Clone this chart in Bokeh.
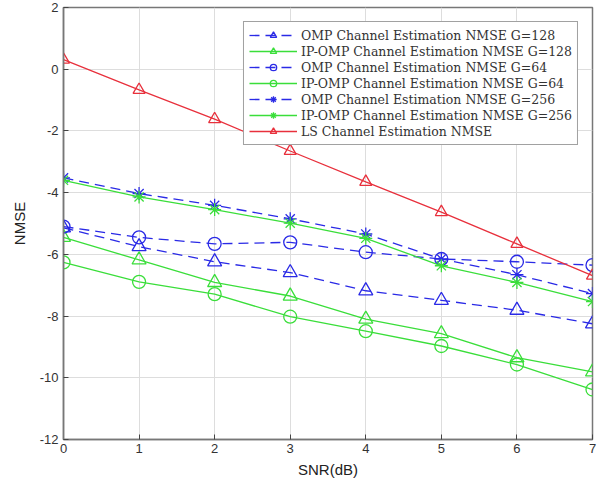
from bokeh.plotting import figure
from bokeh.models import Range1d, Legend, LegendItem, FixedTicker, PrintfTickFormatter
from bokeh.embed import file_html
from bokeh.resources import INLINE

snr = [0, 1, 2, 3, 4, 5, 6, 7]
omp_g128 = [-5.14, -5.75, -6.24, -6.59, -7.18, -7.49, -7.81, -8.25]
ipomp_g128 = [-5.45, -6.18, -6.91, -7.35, -8.10, -8.57, -9.35, -9.81]
omp_g64 = [-5.10, -5.45, -5.66, -5.61, -5.93, -6.15, -6.24, -6.35]
ipomp_g64 = [-6.26, -6.89, -7.29, -8.02, -8.49, -8.97, -9.57, -10.38]
omp_g256 = [-3.52, -4.03, -4.41, -4.85, -5.34, -6.15, -6.66, -7.27]
ipomp_g256 = [-3.60, -4.14, -4.55, -4.99, -5.48, -6.37, -6.91, -7.53]
ls_nmse = [0.31, -0.67, -1.62, -2.65, -3.65, -4.63, -5.66, -6.69]

labels = [
    "OMP Channel Estimation NMSE G=128",
    "IP-OMP Channel Estimation NMSE G=128",
    "OMP Channel Estimation NMSE G=64",
    "IP-OMP Channel Estimation NMSE G=64",
    "OMP Channel Estimation NMSE G=256",
    "IP-OMP Channel Estimation NMSE G=256",
    "LS Channel Estimation NMSE",
]
x_ticks = [0, 1, 2, 3, 4, 5, 6, 7]
y_ticks = [2, 0, -2, -4, -6, -8, -10, -12]

BLUE = "#2a2ae6"
GREEN = "#3ade3a"
RED = "#e8303c"

p = figure(width=597, height=481, output_backend="svg", toolbar_location=None,
           x_range=Range1d(0, 7), y_range=Range1d(-12, 2),
           min_border_left=63, min_border_right=5, min_border_top=7, min_border_bottom=42)
p.background_fill_color = "white"
p.border_fill_color = "white"
p.outline_line_color = "#777777"
p.outline_line_width = 1.5

for ax in (p.xaxis[0], p.yaxis[0]):
    ax.axis_line_color = "#777777"
    ax.axis_line_width = 1.5
    ax.major_tick_in = 5
    ax.major_tick_out = 0
    ax.major_tick_line_color = "#444444"
    ax.minor_tick_line_color = None
    ax.major_label_text_font = "Liberation Sans"
    ax.major_label_text_font_size = "13px"
    ax.major_label_text_color = "#333333"
    ax.axis_label_text_font = "Liberation Sans"
    ax.axis_label_text_font_size = "15px"
    ax.axis_label_text_font_style = "normal"
    ax.axis_label_text_color = "#222222"
p.xaxis[0].ticker = FixedTicker(ticks=x_ticks)
p.yaxis[0].ticker = FixedTicker(ticks=y_ticks)
p.xaxis[0].formatter = PrintfTickFormatter(format="%d")
p.yaxis[0].formatter = PrintfTickFormatter(format="%d")
p.xaxis[0].axis_label = "SNR(dB)"
p.yaxis[0].axis_label = "NMSE"
p.xaxis[0].major_label_standoff = 4
p.yaxis[0].major_label_standoff = 5
p.xaxis[0].axis_label_standoff = 5
p.yaxis[0].axis_label_standoff = 9

p.xgrid.grid_line_color = "#dddddd"
p.ygrid.grid_line_color = "#dddddd"
p.xgrid.ticker = FixedTicker(ticks=x_ticks)
p.ygrid.ticker = FixedTicker(ticks=y_ticks)

series = [
    (omp_g128, BLUE, "10 6", "triangle", 14),
    (ipomp_g128, GREEN, "solid", "triangle", 14),
    (omp_g64, BLUE, "10 6", "circle", 13),
    (ipomp_g64, GREEN, "solid", "circle", 13),
    (omp_g256, BLUE, "10 6", "asterisk", 13),
    (ipomp_g256, GREEN, "solid", "asterisk", 13),
    (ls_nmse, RED, "solid", "triangle", 12),
]

items = []
for (vals, col, dash, mk, sz), lab in zip(series, labels):
    r1 = p.line(snr, vals, line_color=col, line_width=1.3, line_dash=dash)
    r2 = p.scatter(snr, vals, marker=mk, size=sz, line_color=col, fill_color=None, line_width=1.3)
    items.append(LegendItem(label=lab, renderers=[r1, r2]))

legend = Legend(items=items, location="top_right")
legend.margin = 14
legend.padding = 5
legend.spacing = 0
legend.glyph_width = 48
legend.glyph_height = 16
legend.label_height = 16
legend.label_standoff = 4
legend.label_text_font = "DejaVu Serif"
legend.label_text_font_size = "12.5px"
legend.label_text_color = "#333333"
legend.border_line_color = "#444444"
legend.border_line_width = 1.2
legend.background_fill_color = "white"
legend.background_fill_alpha = 1.0
p.add_layout(legend)

open("out.html", "w").write(file_html(p, INLINE))
